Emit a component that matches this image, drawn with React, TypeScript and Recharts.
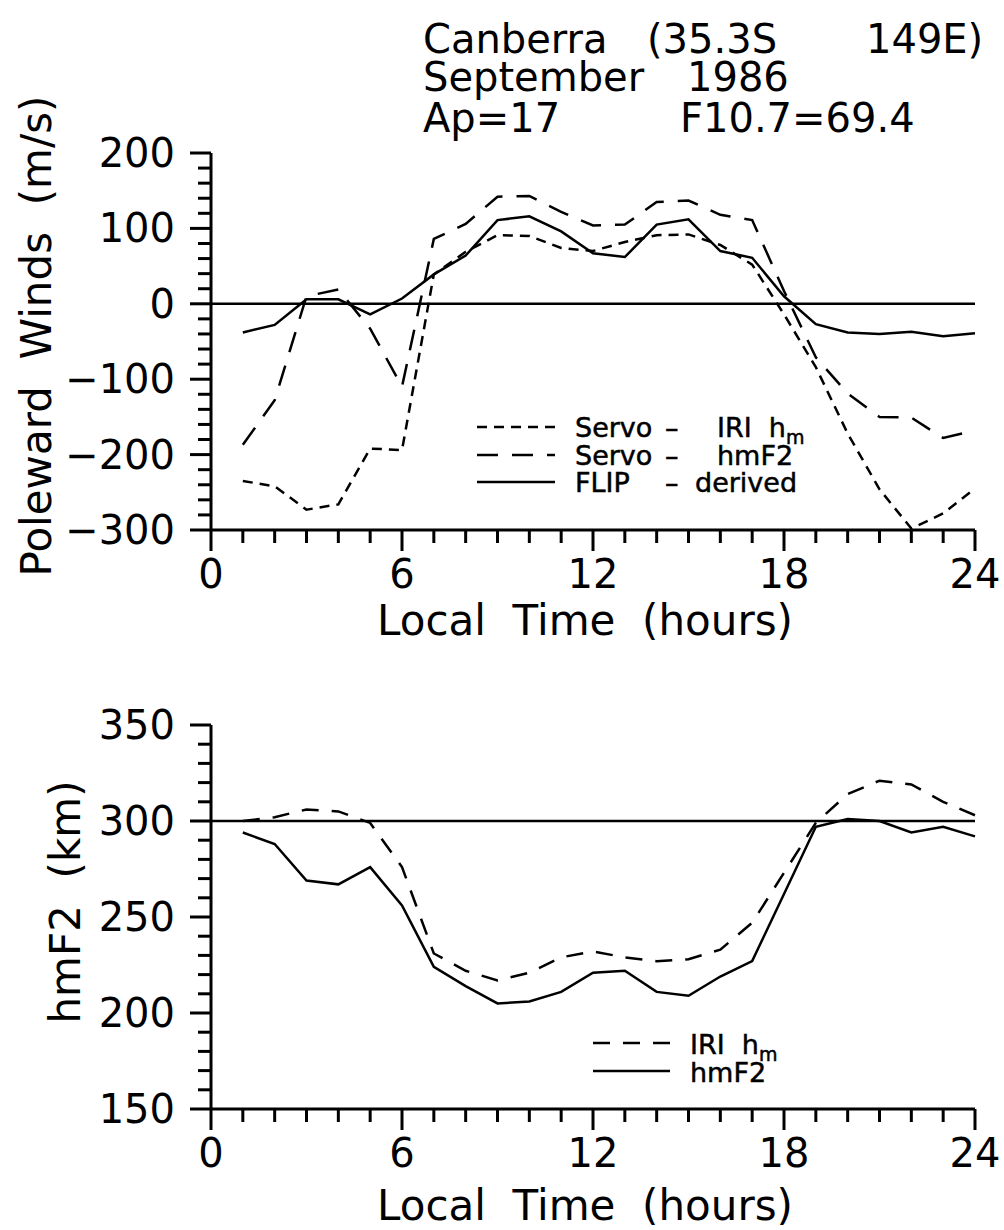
import React from "react";
import { LineChart, Line, XAxis, YAxis, ReferenceLine, Legend } from "recharts";

const FONT = "DejaVu Sans";

// local time, hours
const hours = [1, 2, 3, 4, 5, 6, 7, 8, 9, 10, 11, 12, 13, 14, 15, 16, 17, 18, 19, 20, 21, 22, 23, 24];

// poleward winds (m/s)
const servoIri = [-235, -242, -273, -266, -192, -194, 39, 69, 91, 90, 74, 70, 82, 91, 92, 78, 52, -14, -84, -172, -246, -298, -278, -245];
const servoHmf2 = [-187, -128, 10, 19, -33, -110, 86, 106, 142, 143, 122, 104, 105, 135, 137, 118, 111, 17, -71, -119, -150, -151, -178, -168];
const flipDerived = [-38, -28, 6, 6, -14, 7, 39, 64, 111, 116, 96, 67, 62, 105, 112, 70, 61, 10, -27, -38, -40, -37, -43, -39];

// hmF2 (km)
const iriHm = [300, 302, 306, 305, 299, 276, 231, 222, 217, 221, 229, 232, 229, 227, 228, 233, 247, 273, 299, 314, 321, 319, 310, 303];
const hmf2 = [294, 288, 269, 267, 276, 256, 224, 214, 205, 206, 211, 221, 222, 211, 209, 219, 227, 262, 297, 301, 300, 294, 297, 292];

const hourTicks = [0, 1, 2, 3, 4, 5, 6, 7, 8, 9, 10, 11, 12, 13, 14, 15, 16, 17, 18, 19, 20, 21, 22, 23, 24];
const windTicks: number[] = [];
for (let v = -300; v <= 200; v += 20) windTicks.push(v);
const heightTicks: number[] = [];
for (let v = 150; v <= 350; v += 10) heightTicks.push(v);

const windData = hours.map((h, i) => ({
  hour: h,
  servoIri: servoIri[i],
  servoHmf2: servoHmf2[i],
  flip: flipDerived[i],
}));
const heightData = hours.map((h, i) => ({ hour: h, iri: iriHm[i], hmf2: hmf2[i] }));

const fmt = (v: number) => (v < 0 ? "\u2212" + Math.abs(v) : String(v));

const HourTick = (props: any) => {
  const { x, y, payload } = props;
  const v = payload.value;
  const major = v % 6 === 0;
  return (
    <g>
      <line x1={x} x2={x} y1={y} y2={y + (major ? 21 : 13)} stroke="#000" strokeWidth={3} />
      {major && (
        <text x={x} y={y + 58} textAnchor="middle" fontFamily={FONT} fontSize={40} fill="#000">
          {v}
        </text>
      )}
    </g>
  );
};

const makeValueTick = (majorStep: number) => (props: any) => {
  const { x, y, payload } = props;
  const v = payload.value;
  const major = v % majorStep === 0;
  return (
    <g>
      <line x1={x} x2={x - (major ? 21 : 13)} y1={y} y2={y} stroke="#000" strokeWidth={3} />
      {major && (
        <text x={x - 36} y={y + 14} textAnchor="end" fontFamily={FONT} fontSize={40} fill="#000">
          {fmt(v)}
        </text>
      )}
    </g>
  );
};

const WindTick = makeValueTick(100);
const HeightTick = makeValueTick(50);

const legendText = { fontFamily: FONT, fontSize: 27, fill: "#000", stroke: "#000", strokeWidth: 0.5 };

const TopLegend = () => {
  const rows = [
    { y: 17, dash: "10 7", name: "Servo", rest: "IRI  h", sub: "m", restX: 247 },
    { y: 45, dash: "21 14", name: "Servo", rest: "hmF2", sub: "", restX: 247 },
    { y: 72, dash: undefined, name: "FLIP", rest: "derived", sub: "", restX: 225 },
  ];
  return (
    <svg width={360} height={95} style={{ display: "block", overflow: "visible" }}>
      {rows.map((r, i) => (
        <g key={i}>
          <line x1={7} x2={85} y1={r.y} y2={r.y} stroke="#000" strokeWidth={2.5} strokeDasharray={r.dash} />
          <text x={105} y={r.y + 10} {...legendText}>{r.name}</text>
          <text x={195} y={r.y + 10} {...legendText}>{"\u2013"}</text>
          <text x={r.restX} y={r.y + 10} {...legendText} style={{ whiteSpace: "pre" }}>
            {r.rest}
            {r.sub && (
              <tspan fontSize={19} dy={7}>
                {r.sub}
              </tspan>
            )}
          </text>
        </g>
      ))}
    </svg>
  );
};

const BottomLegend = () => (
  <svg width={220} height={60} style={{ display: "block", overflow: "visible" }}>
    <line x1={8} x2={85} y1={13} y2={13} stroke="#000" strokeWidth={2.5} strokeDasharray="17 13" />
    <text x={105} y={24} {...legendText} style={{ whiteSpace: "pre" }}>
      {"IRI  h"}
      <tspan fontSize={19} dy={7}>m</tspan>
    </text>
    <line x1={8} x2={85} y1={41} y2={41} stroke="#000" strokeWidth={2.5} />
    <text x={105} y={52} {...legendText}>hmF2</text>
  </svg>
);

const axisLine = { stroke: "#000", strokeWidth: 3 };
const labelStyle = { fontFamily: FONT, fontSize: 42, fill: "#000", whiteSpace: "pre" as const };
const titleStyle = { fontFamily: FONT, fontSize: 40, fill: "#000" };

export default function App() {
  return (
    <div style={{ position: "absolute", left: 0, top: 0, width: 1004, height: 1230, background: "#fff" }}>
      <div style={{ position: "absolute", left: 0, top: 0 }}>
        <LineChart width={1004} height={660} data={windData} margin={{ top: 153, right: 29, left: 0, bottom: 0 }}>
          <XAxis
            dataKey="hour"
            type="number"
            domain={[0, 24]}
            ticks={hourTicks}
            interval={0}
            height={130}
            tickSize={0}
            tickMargin={0}
            tickLine={false}
            axisLine={axisLine}
            tick={<HourTick />}
          />
          <YAxis
            type="number"
            domain={[-300, 200]}
            ticks={windTicks}
            interval={0}
            width={211}
            tickSize={0}
            tickMargin={0}
            tickLine={false}
            axisLine={axisLine}
            tick={<WindTick />}
            allowDataOverflow
          />
          <ReferenceLine y={0} stroke="#000" strokeWidth={2.5} />
          <Line type="linear" dataKey="servoIri" stroke="#000" strokeWidth={2.5} strokeDasharray="10 7" dot={false} isAnimationActive={false} />
          <Line type="linear" dataKey="servoHmf2" stroke="#000" strokeWidth={2.5} strokeDasharray="21 14" dot={false} isAnimationActive={false} />
          <Line type="linear" dataKey="flip" stroke="#000" strokeWidth={2.5} dot={false} isAnimationActive={false} />
          <Legend
            layout="horizontal"
            verticalAlign="middle"
            align="center"
            wrapperStyle={{ left: 470, top: 410, width: 360, height: 95 }}
            content={() => <TopLegend />}
          />
        </LineChart>
      </div>

      <div style={{ position: "absolute", left: 0, top: 660 }}>
        <LineChart width={1004} height={570} data={heightData} margin={{ top: 65, right: 29, left: 0, bottom: 0 }}>
          <XAxis
            dataKey="hour"
            type="number"
            domain={[0, 24]}
            ticks={hourTicks}
            interval={0}
            height={121}
            tickSize={0}
            tickMargin={0}
            tickLine={false}
            axisLine={axisLine}
            tick={<HourTick />}
          />
          <YAxis
            type="number"
            domain={[150, 350]}
            ticks={heightTicks}
            interval={0}
            width={211}
            tickSize={0}
            tickMargin={0}
            tickLine={false}
            axisLine={axisLine}
            tick={<HeightTick />}
            allowDataOverflow
          />
          <ReferenceLine y={300} stroke="#000" strokeWidth={2.5} />
          <Line type="linear" dataKey="iri" stroke="#000" strokeWidth={2.5} strokeDasharray="17 13" dot={false} isAnimationActive={false} />
          <Line type="linear" dataKey="hmf2" stroke="#000" strokeWidth={2.5} dot={false} isAnimationActive={false} />
          <Legend
            layout="horizontal"
            verticalAlign="middle"
            align="center"
            wrapperStyle={{ left: 585, top: 370, width: 220, height: 60 }}
            content={() => <BottomLegend />}
          />
        </LineChart>
      </div>

      <svg
        width={1004}
        height={1230}
        style={{ position: "absolute", left: 0, top: 0, pointerEvents: "none" }}
      >
        <text x={423} y={53} {...titleStyle}>Canberra</text>
        <text x={647} y={53} {...titleStyle}>(35.3S</text>
        <text x={866} y={53} {...titleStyle}>149E)</text>
        <text x={423} y={91} {...titleStyle}>September</text>
        <text x={687} y={91} {...titleStyle}>1986</text>
        <text x={423} y={132} {...titleStyle}>Ap=17</text>
        <text x={680} y={132} {...titleStyle}>F10.7=69.4</text>

        <text x={51} y={336} textAnchor="middle" transform="rotate(-90, 51, 336)" style={labelStyle}>
          {"Poleward  Winds  (m/s)"}
        </text>
        <text x={585} y={635} textAnchor="middle" style={labelStyle}>
          {"Local  Time  (hours)"}
        </text>

        <text x={80} y={902} textAnchor="middle" transform="rotate(-90, 80, 902)" style={labelStyle}>
          {"hmF2  (km)"}
        </text>
        <text x={585} y={1220} textAnchor="middle" style={labelStyle}>
          {"Local  Time  (hours)"}
        </text>
      </svg>
    </div>
  );
}
